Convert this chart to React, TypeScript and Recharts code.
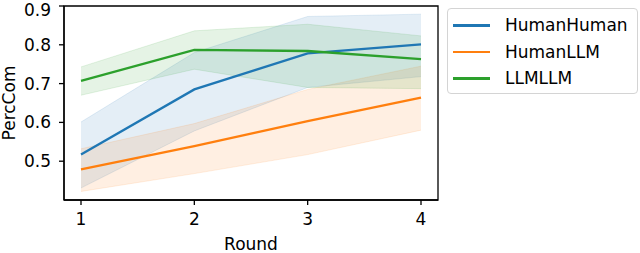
import {
  ComposedChart,
  Area,
  Line,
  XAxis,
  YAxis,
  ReferenceArea,
} from 'recharts'

const rounds = [1, 2, 3, 4]

const humanHumanMean = [0.517, 0.685, 0.778, 0.801]
const humanHumanLow = [0.431, 0.578, 0.69, 0.718]
const humanHumanHigh = [0.601, 0.78, 0.873, 0.879]

const humanLLMMean = [0.479, 0.539, 0.603, 0.664]
const humanLLMLow = [0.422, 0.468, 0.517, 0.58]
const humanLLMHigh = [0.532, 0.597, 0.685, 0.745]

const llmLLMMean = [0.707, 0.787, 0.784, 0.763]
const llmLLMLow = [0.67, 0.737, 0.69, 0.687]
const llmLLMHigh = [0.743, 0.836, 0.853, 0.823]

const yTicks = [0.5, 0.6, 0.7, 0.8, 0.9]

const SERIES = [
  { key: 'hh', name: 'HumanHuman', color: '#1f77b4' },
  { key: 'hl', name: 'HumanLLM', color: '#ff7f0e' },
  { key: 'll', name: 'LLMLLM', color: '#2ca02c' },
]

const data = rounds.map((r, i) => ({
  round: r,
  hh: humanHumanMean[i],
  hhBand: [humanHumanLow[i], humanHumanHigh[i]],
  hl: humanLLMMean[i],
  hlBand: [humanLLMLow[i], humanLLMHigh[i]],
  ll: llmLLMMean[i],
  llBand: [llmLLMLow[i], llmLLMHigh[i]],
}))

const FONT = 'DejaVu Sans'

function YLabel() {
  return (
    <text
      x={0}
      y={0}
      transform="translate(15, 103) rotate(-90)"
      textAnchor="middle"
      fontFamily={FONT}
      fontSize={17}
      fill="#000"
    >
      PercCom
    </text>
  )
}

function LegendBox() {
  return (
    <div
      style={{
        position: 'absolute',
        left: '447px',
        top: '8px',
        border: '1px solid #d4d4d4',
        borderRadius: '4px',
        background: '#fff',
        width: '191px',
        height: '86px',
        boxSizing: 'border-box',
        paddingTop: '3px',
        fontFamily: FONT,
        fontSize: '17px',
        color: '#000',
      }}
    >
      {SERIES.map((s) => (
        <div
          key={s.key}
          style={{ display: 'flex', alignItems: 'center', height: '26.5px' }}
        >
          <div
            style={{
              width: '37px',
              height: '2.5px',
              background: s.color,
              marginLeft: '5px',
              marginRight: '15px',
            }}
          />
          <span style={{ lineHeight: '20px' }}>{s.name}</span>
        </div>
      ))}
    </div>
  )
}

export default function App() {
  return (
    <div style={{ position: 'absolute', left: 0, top: 0, width: 640, height: 253, background: '#fff' }}>
      <ComposedChart
        width={640}
        height={253}
        data={data}
        margin={{ top: 6, right: 202, left: 0, bottom: 0 }}
      >
        <XAxis
          dataKey="round"
          type="number"
          domain={[0.85, 4.15]}
          ticks={rounds}
          height={53}
          stroke="#000"
          strokeWidth={1.3}
          tickSize={5}
          tickMargin={8}
          tick={{ fill: '#000', fontSize: 17, fontFamily: FONT }}
          label={{
            value: 'Round',
            position: 'insideBottom',
            offset: 3,
            fill: '#000',
            fontSize: 17,
            fontFamily: FONT,
          }}
        />
        <YAxis
          type="number"
          domain={[0.4, 0.9]}
          ticks={yTicks}
          width={64}
          stroke="#000"
          strokeWidth={1.3}
          tickSize={5}
          tickMargin={8}
          tick={{ fill: '#000', fontSize: 17, fontFamily: FONT }}
          label={<YLabel />}
          allowDataOverflow
        />
        {SERIES.map((s) => (
          <Area
            key={s.key + 'Band'}
            dataKey={s.key + 'Band'}
            type="linear"
            fill={s.color}
            fillOpacity={0.12}
            stroke={s.color}
            strokeOpacity={0.12}
            strokeWidth={1}
            isAnimationActive={false}
            legendType="none"
            activeDot={false}
          />
        ))}
        {SERIES.map((s) => (
          <Line
            key={s.key}
            dataKey={s.key}
            name={s.name}
            type="linear"
            stroke={s.color}
            strokeWidth={2.3}
            dot={false}
            activeDot={false}
            isAnimationActive={false}
          />
        ))}
        <ReferenceArea
          x1={0.85}
          x2={4.15}
          y1={0.4}
          y2={0.9}
          fill="none"
          stroke="#000"
          strokeWidth={1.3}
          ifOverflow="visible"
        />
      </ComposedChart>
      <LegendBox />
    </div>
  )
}
